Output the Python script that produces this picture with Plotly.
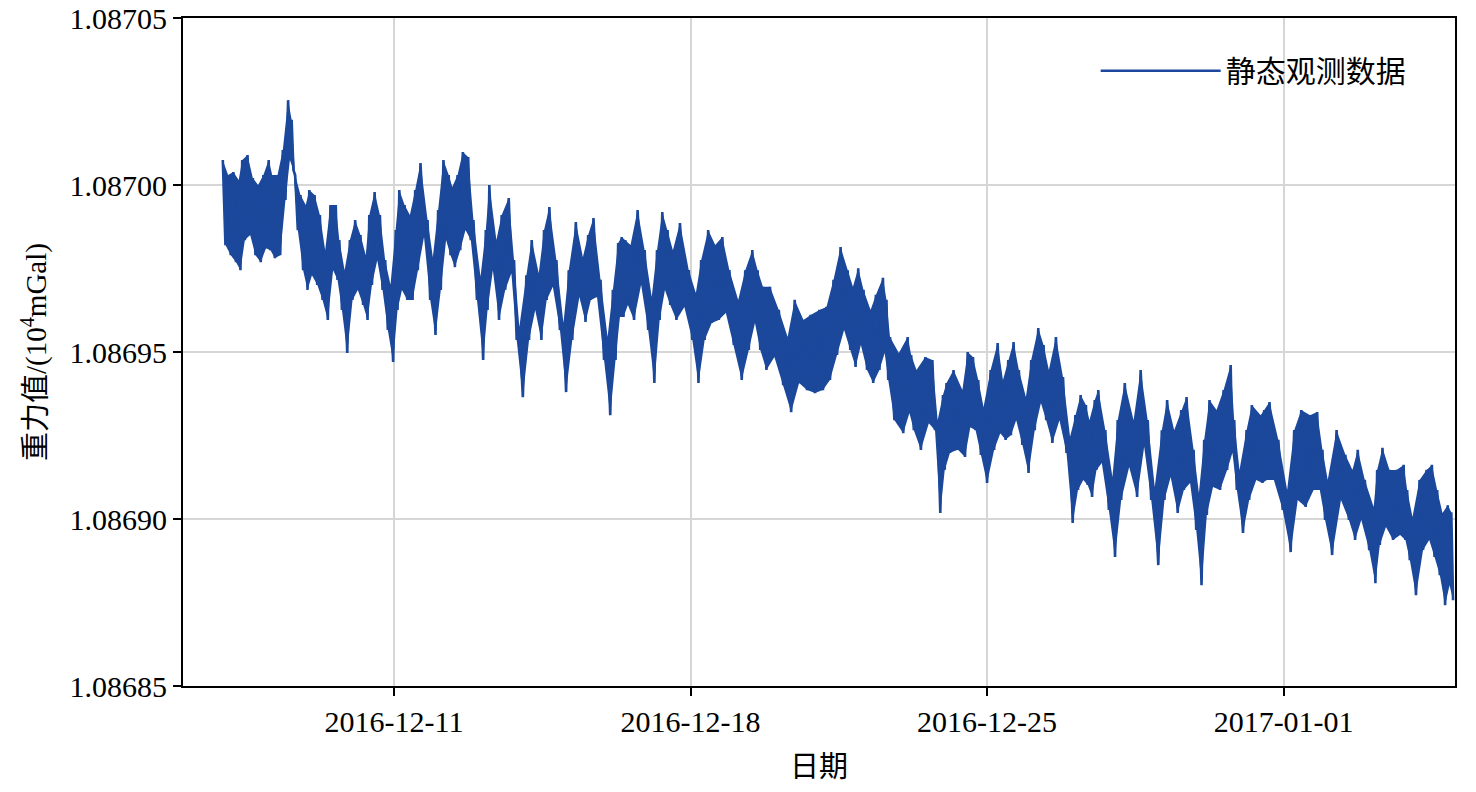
import pandas as pd
import plotly.graph_objects as go

# Time of each reading, hours after 2016-12-06 00:00
hours = [23,26,29,32,34,37,40,43,46,49,51,54,57,60,62,64,67,70,72,75,78,81,84,87,89,92,95,98,101,104,106,109,112,115,118,121,123,126,129,
         132,135,139,142,145,148,151,153,156,159,162,165,169,172,174,178,181,185,188,191,195,198,202,205,208,212,216,219,223,227,230,233,237,241,244,247,
         249,251,254,258,262,266,269,272,275,278,282,287,291,294,298,302,306,310,315,319,323,326,329,333,338,343,347,352,
         356,361,365,369,373,377,380,383,386,390,393,397,399,401,406,411,413,416,421,425,428,431,433,437,442,445,448,451,454,458,462,465,468,
         471,474,478,481,485,488,491,495,499,503,506,509,512,514,517,519,523,527,530,534,539,543,547,551,555,558,562,566,569,573,576,579,582,
         586,590,594,596,599,603,606,611,613,616,621,626,630,634,639,643,646,649,654,659,663,666,670,675,677,680,684,688,692,694,697,701,705,708,711,714,717,719]

# Upper / lower excursions of the record, in μGal above 10868.5 mGal
upper_ugal = [1575,1530,1539,1515,1575,1590,1521,1500,1530,1575,1530,1530,1605,1754,1695,1530,1470,1440,1485,1470,1410,1305,1440,1440,1335,1245,1335,1395,1350,1290,1410,1479,1410,1275,1201,1365,1485,1440,1410,
              1485,1566,1395,1284,1425,1575,1530,1494,1530,1599,1584,1395,1225,1365,1500,1335,1410,1461,1275,1075,1230,1335,1236,1365,1434,1275,1087,1245,1389,1284,1350,1401,1216,1045,1186,1326,
              1344,1335,1320,1425,1305,1165,1305,1419,1365,1305,1386,1245,1177,1275,1365,1320,1344,1245,1156,1245,1305,1245,1195,1195,1126,1045,1156,1096,
              1111,1126,1135,1216,1314,1245,1195,1251,1186,1126,1171,1222,1156,1045,997,1045,991,946,985,976,796,871,907,946,886,1000,985,916,835,946,1027,916,976,
              1030,946,865,976,1072,1021,946,1045,925,746,811,871,841,796,856,886,766,626,796,907,796,946,796,596,766,856,766,826,865,707,578,737,856,
              826,886,961,796,647,766,841,811,826,850,737,587,766,826,811,820,707,617,766,692,647,707,617,536,647,713,647,647,662,587,506,617,647,662,587,518,541,520]

lower_ugal = [1320,1290,1269,1245,1335,1350,1290,1269,1311,1305,1281,1290,1455,1575,1545,1365,1245,1186,1230,1201,1156,1096,1245,1216,1126,997,1156,1186,1141,1096,1201,1275,1186,1066,970,1126,1186,1156,1156,
              1245,1344,1156,1051,1186,1335,1290,1254,1305,1365,1335,1156,976,1126,1245,1096,1186,1236,1036,865,1036,1126,1036,1156,1195,1066,880,1036,1165,1090,1156,1165,976,811,976,1105,
              1105,1141,1096,1201,1066,907,1096,1186,1141,1096,1135,1036,907,1036,1087,1096,1117,1021,916,1006,1087,1006,946,985,901,820,907,886,
              877,886,916,991,1066,1006,955,1021,946,907,946,997,916,796,757,817,766,707,787,766,518,647,698,707,686,775,766,692,608,707,757,737,751,
              796,722,638,766,847,796,728,796,698,488,587,617,602,566,647,668,527,386,557,656,566,716,557,362,557,626,518,587,608,467,302,512,596,
              587,647,698,587,458,557,617,608,617,617,527,401,557,536,587,587,497,392,557,497,437,497,407,308,422,476,437,452,437,377,272,407,437,386,332,242,302,257]

y_ticks = [1.08685, 1.08690, 1.08695, 1.08700, 1.08705]
x_ticks = ["2016-12-11", "2016-12-18", "2016-12-25", "2017-01-01"]

BASE = 1.08685
t0 = pd.Timestamp("2016-12-06 00:00")

n = len(hours)
t_top = [t0 + pd.Timedelta(hours=h) for h in hours]
t_low = [t0 + pd.Timedelta(hours=(hours[i] + (hours[i + 1] if i + 1 < n else hours[i] + 2)) / 2)
         for i in range(n)]
y_top = [BASE + v * 1e-7 for v in upper_ugal]
y_low = [BASE + v * 1e-7 for v in lower_ugal]

xs, ys = [], []
for i in range(n):
    xs += [t_top[i], t_low[i]]
    ys += [y_top[i], y_low[i]]

serif = "Liberation Serif, Times New Roman, Noto Sans CJK SC, serif"
blue = "#1B489B"

fig = go.Figure()
# solid body of the dense record (between its upper and lower excursions)
fig.add_trace(go.Scatter(x=t_top, y=y_top, mode="lines", line=dict(width=0, color=blue),
                         showlegend=False, hoverinfo="skip"))
fig.add_trace(go.Scatter(x=t_low, y=y_low, mode="lines", line=dict(width=0, color=blue),
                         fill="tonexty", fillcolor=blue, showlegend=False, hoverinfo="skip"))
# the record itself
fig.add_trace(go.Scatter(x=xs, y=ys, mode="lines", name="静态观测数据",
                         line=dict(color=blue, width=2.6)))

axis_common = dict(showline=True, linecolor="black", linewidth=2, mirror=True,
                   ticks="outside", ticklen=8, tickwidth=2, tickcolor="black",
                   showgrid=True, gridcolor="#d6d6d6", gridwidth=2,
                   zeroline=False, ticklabeloverflow="allow",
                   tickfont=dict(family=serif, size=30, color="black"))

fig.update_xaxes(**axis_common, type="date",
                 range=["2016-12-06 00:27", "2017-01-05 01:06"],
                 tickvals=x_ticks, ticktext=x_ticks, automargin=False,
                 title=dict(text="日期", font=dict(family=serif, size=29, color="black"), standoff=20))
fig.update_yaxes(**axis_common, range=[y_ticks[0], y_ticks[-1]],
                 tickvals=y_ticks, tickformat=".5f", automargin=False,
                 title=dict(text="重力值/(10<sup>4</sup>mGal)", font=dict(family=serif, size=29, color="black"), standoff=14))

fig.update_layout(
    width=1476, height=792,
    margin=dict(l=183, r=21, t=18, b=106),
    paper_bgcolor="white", plot_bgcolor="white",
    showlegend=True,
    legend=dict(x=0.7175, y=0.921, xanchor="left", yanchor="middle",
                bgcolor="rgba(0,0,0,0)", borderwidth=0,
                font=dict(family=serif, size=30, color="black"), itemwidth=120),
)

fig.write_html("out.html", config={"displayModeBar": False},
               post_script="document.body.style.margin='0px';")
